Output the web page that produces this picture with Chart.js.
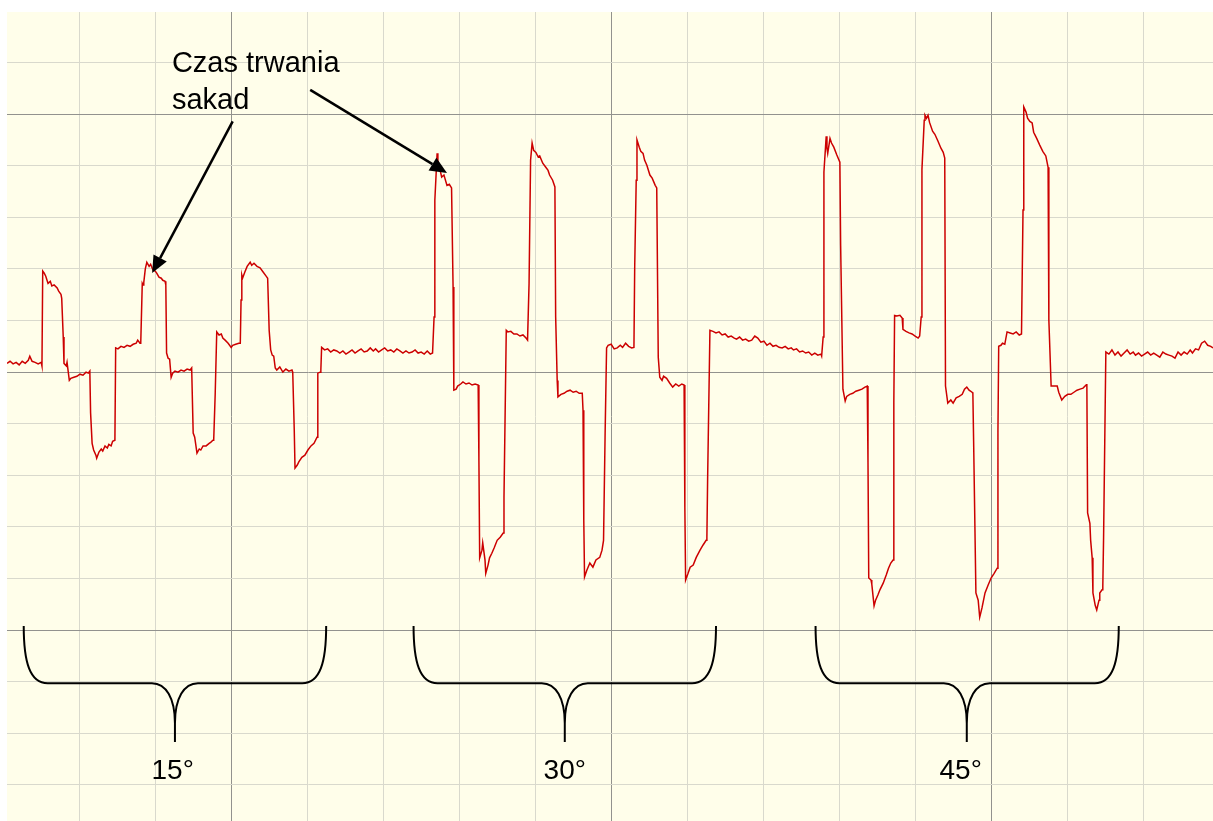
<!DOCTYPE html>
<html>
<head>
<meta charset="utf-8">
<script src="https://cdn.jsdelivr.net/npm/chart.js@4"></script>
<style>
  html, body { margin: 0; padding: 0; background: #ffffff; }
  #wrap { width: 1213px; height: 821px; }
</style>
</head>
<body>
<div id="wrap"><canvas id="c" width="1213" height="821"></canvas></div>
<script>
// ---- data (x: time, 10 units per minor grid division; y: signal, 10 units per minor division) ----
const trace15 = [
  [0.4,1.7],[0.8,2.1],[1.2,1.6],[1.6,1.9],[2.0,1.4],[2.4,2.1],[2.8,1.7],[3.2,2.3],[3.4,3.1],[3.7,2.1],[4.1,1.9],[4.5,1.6],[4.9,1.9],[5.0,1.2],
  [5.1,19.6],[5.3,19.2],[5.5,18.6],[5.8,17.2],[6.1,17.6],[6.3,16.7],[6.6,16.9],[7.0,16.3],[7.2,15.7],[7.5,15.1],[7.6,14.3],
  [7.8,6.8],[7.9,1.7],[8.2,1.2],[8.3,1.9],[8.6,-1.6],[8.8,-1.2],[9.2,-1.0],[9.6,-0.8],[10.0,-0.4],[10.4,-0.6],[10.8,0],[11.1,-0.2],[11.3,0.2],
  [11.4,-7.9],[11.6,-13.8],[11.8,-15.1],[12.1,-16.1],[12.2,-16.7],[12.5,-15.5],[12.8,-14.9],[13.0,-15.3],[13.3,-14.3],[13.6,-14.7],[13.8,-14.0],[14.1,-14.3],[14.3,-13.4],[14.6,-13.2],
  [14.7,4.7],[15.0,4.5],[15.4,5.0],[15.8,4.8],[16.2,5.2],[16.6,5.0],[17.0,5.4],[17.4,5.6],[17.6,6.2],[17.9,5.6],[18.0,5.6],
  [18.2,17.2],[18.3,16.9],[18.4,17.4],[18.6,20.0],[18.8,21.3],[19.1,20.5],[19.3,20.9],[19.6,19.8],[19.9,19.6],[20.1,19.2],[20.4,18.4],[20.7,18.2],[20.9,17.8],[21.2,17.6],[21.3,16.9],
  [21.4,3.7],[21.6,2.7],[21.8,2.5],[22.0,-1.0],[22.2,-0.2],[22.5,0.2],[22.9,0],[23.3,0.4],[23.7,0.2],[24.1,0.6],[24.5,0.4],[24.7,0.8],
  [24.9,-11.8],[25.1,-12.6],[25.4,-15.7],[25.7,-14.9],[25.9,-15.1],[26.2,-14.3],[26.6,-14.3],[27.0,-13.8],[27.2,-13.6],[27.5,-13.2],[27.6,-13.2],
  [27.8,-4.1],[28.0,7.8],[28.3,7.2],[28.6,7.4],[28.8,6.6],[29.1,6.2],[29.5,5.6],[29.9,4.8],[30.1,5.2],[30.5,5.4],[30.9,5.6],[31.1,5.6],
  [31.2,14.0],[31.3,18.8],[31.4,18.2],[31.7,19.4],[32.0,20.5],[32.4,21.3],[32.6,20.7],[32.9,21.1],[33.3,20.5],[33.7,20.2],[34.1,19.4],[34.5,18.6],[34.7,18.2],
  [34.9,8.1],[35.1,4.3],[35.3,3.3],[35.5,3.1],[35.7,0.8],[35.9,0.4],[36.3,1.0],[36.7,0],[37.1,0.6],[37.5,0.2],[37.9,0.4],[38.0,0],
  [38.2,-11.2],[38.3,-18.6],[38.6,-18.0],[38.8,-17.4],[39.2,-16.5],[39.6,-16.1],[40.0,-15.1],[40.4,-14.3],[40.8,-13.8],[41.2,-12.6],
  [41.3,-0.2],[41.6,0],[41.7,0.4],[41.8,4.8],[42.2,4.3],[42.6,4.5],[43.0,3.9],[43.4,4.3],[43.8,4.1],[44.2,3.7],[44.6,4.1],[45.0,3.5],[45.4,3.9],[45.8,4.3],[46.2,3.7],[46.6,4.1],[47.0,4.5],[47.4,3.9],[47.8,4.1],[48.2,4.7],[48.6,4.1],[48.9,4.5],[49.3,3.9],[49.7,4.3],[50.1,4.7],[50.5,4.1],[50.9,4.3],[51.3,3.9],[51.7,4.5],[52.1,4.1],[52.5,3.7],[52.9,4.1],[53.3,3.7],[53.7,3.9],[54.1,4.3],[54.5,3.7],[54.9,3.9],[55.3,3.5],[55.7,4.1],[56.1,3.5],[56.4,3.7]
];
const trace30 = [
  [56.6,10.7],[56.7,33.3],[57.0,42.4],[57.1,41.1],[57.4,39.1],[57.6,37.8],[57.9,38.2],[58.3,36.2],[58.6,36.4],[58.9,35.7],
  [59.1,16.5],[59.2,-3.5],[59.5,-3.3],[59.7,-2.7],[60.1,-2.3],[60.4,-1.9],[60.8,-2.3],[61.2,-2.1],[61.6,-2.5],[62.0,-2.3],[62.4,-2.5],
  [62.5,-17.1],[62.6,-36.0],[62.9,-34.5],[63.0,-33.1],[63.3,-36.4],[63.4,-39.0],[63.7,-37.4],[63.9,-36.0],[64.2,-35.1],[64.5,-34.1],[64.9,-32.6],[65.3,-32.0],[65.7,-31.2],
  [65.8,-24.2],[66.1,8.1],[66.3,7.8],[66.7,7.9],[67.1,7.4],[67.5,7.4],[67.9,7.0],[68.3,7.2],[68.7,6.6],[68.9,6.2],
  [69.1,17.2],[69.3,41.1],[69.5,44.4],[69.7,43.0],[70.0,42.6],[70.3,41.7],[70.5,41.9],[70.9,40.5],[71.3,39.7],[71.6,39.1],[71.8,38.2],[72.2,37.2],[72.5,35.9],
  [72.6,10.7],[72.8,-1.6],[72.9,-4.8],[73.3,-4.3],[73.7,-4.1],[74.1,-3.7],[74.5,-3.5],[74.9,-3.9],[75.3,-3.7],[75.7,-4.1],[76.1,-4.1],
  [76.2,-7.4],[76.3,-28.7],[76.4,-39.7],[76.7,-38.4],[77.1,-37.0],[77.5,-37.8],[77.9,-36.4],[78.4,-35.9],[78.7,-34.5],[78.9,-32.6],
  [79.1,-12.6],[79.3,4.7],[79.5,5.2],[79.9,5.4],[80.3,4.5],[80.7,4.7],[81.1,5.2],[81.4,4.8],[81.8,5.6],[82.2,5.0],[82.6,4.7],[82.9,4.8],
  [83.0,20.3],[83.2,37.2],[83.3,45.0],[83.6,43.6],[83.8,42.8],[84.1,42.4],[84.3,41.1],[84.6,40.1],[85.0,38.2],[85.3,37.6],[85.7,36.2],[85.9,35.7],
  [86.1,2.9],[86.3,-1.0],[86.6,-1.6],[86.8,-0.8],[87.2,-1.2],[87.6,-2.1],[88.0,-2.9],[88.4,-2.3],[88.8,-2.7],[89.2,-2.3],[89.5,-2.5],
  [89.6,-26.2],[89.7,-40.3],[90.0,-39.1],[90.3,-37.8],[90.7,-37.4],[91.1,-35.9],[91.6,-34.5],[92.0,-33.5],[92.4,-32.6],[92.5,-32.0],
  [92.6,-20.3],[92.9,8.1],[93.3,7.9],[93.7,7.6],[94.1,7.8],[94.5,7.2],[94.9,7.4],[95.3,6.8],[95.7,7.0],[96.1,6.6],[96.4,6.4],[96.8,6.8],[97.2,6.2],[97.6,6.4],[98.0,6.0],[98.4,6.2],[98.8,7.0],[99.2,6.6],[99.6,5.8],[100.0,6.0],[100.4,5.2],[100.8,5.6],[101.2,5.0],[101.6,5.2],[102.0,4.8],[102.4,4.7],[102.8,5.0],[103.2,4.5],[103.6,4.7],[103.9,4.3],[104.3,4.5],[104.7,3.9],[105.1,4.1],[105.5,3.7],[105.9,3.9],[106.3,3.3],[106.7,3.7],[107.1,3.3],[107.5,3.5],[107.6,3.1]
];
const trace45 = [
  [107.8,6.8],[107.9,38.8],[108.2,45.7],[108.3,43.4],[108.4,42.4],[108.7,45.3],[108.9,44.4],[109.2,43.6],[109.6,42.1],[110.0,40.7],
  [110.1,24.6],[110.4,-3.3],[110.7,-5.6],[110.9,-4.7],[111.3,-4.3],[111.7,-4.1],[112.1,-3.7],[112.5,-3.5],[112.9,-3.3],[113.3,-2.9],[113.6,-2.7],
  [113.7,-17.4],[113.8,-39.9],[114.1,-40.3],[114.2,-41.1],[114.5,-45.3],[114.7,-44.2],[115.0,-43.2],[115.3,-42.1],[115.7,-40.9],[116.1,-39.3],[116.4,-38.0],[116.7,-37.0],[117.0,-36.4],
  [117.1,-6.0],[117.2,11.0],[117.5,10.9],[117.9,11.0],[118.2,10.5],[118.3,8.3],[118.7,7.9],[119.1,7.6],[119.5,7.4],[119.9,7.0],[120.3,6.6],[120.5,7.0],
  [120.7,10.7],[120.8,39.3],[121.1,48.8],[121.2,49.8],[121.4,49.2],[121.6,49.8],[121.8,48.4],[122.2,46.7],[122.5,46.1],[122.9,44.8],[123.3,43.4],[123.6,42.6],[123.8,41.5],
  [123.9,-2.7],[124.2,-6.0],[124.6,-5.4],[124.9,-6.0],[125.3,-5.0],[125.7,-4.7],[126.1,-4.3],[126.4,-3.3],[126.7,-2.9],[127.0,-3.5],[127.4,-3.9],[127.5,-4.1],
  [127.6,-13.4],[127.9,-42.8],[128.2,-44.2],[128.4,-47.5],[128.7,-45.7],[129.1,-42.8],[129.5,-41.3],[129.9,-39.9],[130.3,-39.0],[130.7,-38.0],
  [130.8,-11.4],[130.9,5.0],[131.2,5.2],[131.4,5.6],[131.7,5.4],[132.0,7.8],[132.4,7.6],[132.8,7.4],[133.2,7.8],[133.6,7.2],[133.9,7.4],
  [134.1,31.4],[134.2,51.4],[134.5,50.4],[134.7,49.2],[135.0,48.6],[135.3,48.3],[135.5,46.5],[135.9,45.3],[136.3,44.0],[136.7,42.8],[137.1,41.9],[137.4,39.7],
  [137.5,10.1],[137.8,-2.7],[138.2,-2.7],[138.6,-2.7],[138.8,-3.9],[139.2,-5.4],[139.6,-4.7],[140.0,-4.3],[140.4,-4.3],[140.8,-3.9],[141.2,-3.5],[141.6,-3.3],[142.0,-3.1],[142.4,-2.5],[142.5,-2.3],
  [142.6,-27.3],[142.9,-29.3],[143.0,-32.6],[143.2,-36.0],[143.3,-42.8],[143.6,-45.2],[143.8,-46.1],[144.1,-44.2],[144.2,-42.8],[144.5,-42.2],[144.6,-41.5],
  [144.7,-32.2],[145.0,3.9],[145.4,3.5],[145.8,4.3],[146.2,3.3],[146.6,3.9],[147.0,3.1],[147.4,3.7],[147.8,4.3],[148.2,3.5],[148.6,3.9],[148.9,3.3],[149.3,3.7],[149.7,3.1],[150.1,3.5],[150.5,3.9],[150.9,3.3],[151.3,3.7],[151.7,3.3],[152.1,2.9],[152.5,3.9],[152.9,3.5],[153.3,3.3],[153.7,3.1],[154.1,2.7],[154.5,3.9],[154.9,3.3],[155.3,3.9],[155.7,3.5],[156.1,4.3],[156.4,3.7],[156.8,4.5],[157.2,4.3],[157.6,5.6],[158.0,6.0],[158.4,5.2],[158.8,5.0],[159.1,4.7]
];
const saccadeLabels = ['15°', '30°', '45°'];
const annotationText = ['Czas trwania', 'sakad'];

// ---- annotation geometry, in data units ----
const braceSpans = [ [2.6, 42.4, 22.5, 22.2], [53.9, 93.7, 73.8, 73.8], [106.8, 146.7, 126.7, 125.9] ]; // from, to, tip, label centre
const braceLevels = { top: -49.2, mid: -60.3, bottom: -71.7, label: -78.8 };
const arrowDefs = [ [30.1, 48.6, 19.5, 19.2], [40.3, 54.7, 58.3, 38.6] ]; // tail x,y -> tip x,y
const textAnchor = { x: 22.1, line1: 58.1, line2: 51.0 };

const CREAM = 'rgb(255,254,234)';
const MINOR = 'rgb(217,217,205)';
const MAJOR = 'rgb(146,146,142)';

const bgPlugin = {
  id: 'bg',
  beforeDraw(chart) {
    const { ctx, chartArea: a } = chart;
    ctx.save();
    ctx.fillStyle = CREAM;
    ctx.fillRect(a.left, a.top, a.right - a.left, a.bottom - a.top);
    ctx.restore();
  }
};

const annotPlugin = {
  id: 'annot',
  afterDatasetsDraw(chart) {
    const { ctx, scales: { x, y } } = chart;
    const X = v => x.getPixelForValue(v), Y = v => y.getPixelForValue(v);
    ctx.save();
    ctx.strokeStyle = '#000';
    ctx.fillStyle = '#000';
    ctx.lineCap = 'butt';
    ctx.lineJoin = 'round';
    // braces
    ctx.lineWidth = 2;
    const top = Y(braceLevels.top), mid = Y(braceLevels.mid), bot = Y(braceLevels.bottom);
    braceSpans.forEach(([from, to, tip]) => {
      const L = X(from), R = X(to), M = X(tip);
      const vTip = mid + 40;
      ctx.beginPath();
      ctx.moveTo(L, top);
      ctx.bezierCurveTo(L, top + 36, L + 6, mid, L + 24, mid);
      ctx.lineTo(M - 23, mid);
      ctx.bezierCurveTo(M - 9, mid, M, mid + 15, M, vTip);
      ctx.lineTo(M, bot);
      ctx.moveTo(M, vTip);
      ctx.bezierCurveTo(M, mid + 15, M + 9, mid, M + 23, mid);
      ctx.lineTo(R - 24, mid);
      ctx.bezierCurveTo(R - 6, mid, R, top + 36, R, top);
      ctx.stroke();
    });
    // labels
    ctx.font = '28px "Liberation Sans", Arial, sans-serif';
    ctx.textAlign = 'center';
    ctx.textBaseline = 'alphabetic';
    braceSpans.forEach((b, i) => ctx.fillText(saccadeLabels[i], X(b[3]), Y(braceLevels.label)));
    // text
    ctx.font = '29px "Liberation Sans", Arial, sans-serif';
    ctx.textAlign = 'left';
    ctx.fillText(annotationText[0], X(textAnchor.x), Y(textAnchor.line1));
    ctx.fillText(annotationText[1], X(textAnchor.x), Y(textAnchor.line2));
    // arrows
    ctx.lineWidth = 2.5;
    arrowDefs.forEach(([tx, ty, hx, hy]) => {
      const x0 = X(tx), y0 = Y(ty), x1 = X(hx), y1 = Y(hy);
      const ang = Math.atan2(y1 - y0, x1 - x0);
      const len = 17, hw = 7.5;
      const bx = x1 - len * Math.cos(ang), by = y1 - len * Math.sin(ang);
      ctx.beginPath(); ctx.moveTo(x0, y0); ctx.lineTo(bx, by); ctx.stroke();
      ctx.beginPath();
      ctx.moveTo(x1, y1);
      ctx.lineTo(bx + hw * Math.sin(ang), by - hw * Math.cos(ang));
      ctx.lineTo(bx - hw * Math.sin(ang), by + hw * Math.cos(ang));
      ctx.closePath();
      ctx.fill();
    });
    ctx.restore();
  }
};

const isMultiple = (v, s) => Math.abs(v / s - Math.round(v / s)) < 1e-6;

const points = [...trace15, ...trace30, ...trace45].map(([x, y]) => ({ x, y }));

new Chart(document.getElementById('c'), {
  type: 'line',
  data: {
    datasets: [{
      data: points,
      borderColor: 'rgb(204,0,0)',
      borderWidth: 1.5,
      pointRadius: 0,
      tension: 0,
      fill: false
    }]
  },
  options: {
    responsive: false,
    animation: false,
    events: [],
    devicePixelRatio: 1,
    layout: { padding: { left: 7, top: 12, right: 0, bottom: 0 } },
    plugins: { legend: { display: false }, tooltip: { enabled: false } },
    scales: {
      x: {
        type: 'linear',
        min: 0.4, max: 159.1,
        ticks: { display: false, stepSize: 10 },
        border: { display: false },
        grid: {
          drawTicks: false,
          lineWidth: 1,
          color: c => {
            const v = c.tick.value;
            if (!isMultiple(v, 10)) return 'rgba(0,0,0,0)';
            return isMultiple(v - 30, 50) ? MAJOR : MINOR;
          }
        }
      },
      y: {
        type: 'linear',
        min: -87.0, max: 69.8,
        ticks: { display: false, stepSize: 10 },
        border: { display: false },
        grid: {
          drawTicks: false,
          lineWidth: 1,
          color: c => {
            const v = c.tick.value;
            if (!isMultiple(v, 10)) return 'rgba(0,0,0,0)';
            return isMultiple(v, 50) ? MAJOR : MINOR;
          }
        }
      }
    }
  },
  plugins: [bgPlugin, annotPlugin]
});
</script>
</body>
</html>
